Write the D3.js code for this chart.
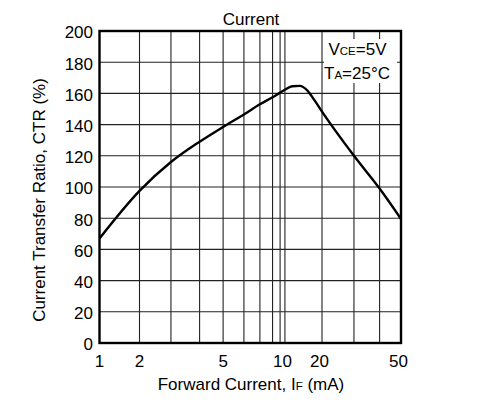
<!DOCTYPE html>
<html>
<head>
<meta charset="utf-8">
<script src="https://cdn.jsdelivr.net/npm/d3@7"></script>
<style>
  html, body { margin: 0; padding: 0; background: #fff; }
  svg { display: block; font-family: "Liberation Sans", Arial, Helvetica, sans-serif; }
</style>
</head>
<body>
<svg id="chart" width="479" height="420"></svg>
<script>
// ---- data ----
const currentIF = [1, 2, 3, 4, 5, 6, 7, 8, 9, 10, 12, 14, 16, 18, 20, 30, 40, 50];
const ctrValues = [67, 97.5, 116, 129, 138.5, 146.5, 153, 157.5, 160.5, 162.3, 164.6, 164.8, 162, 155.5, 148.3, 120, 99, 79.5];
const xGridValues = [1, 2, 3, 4, 5, 6, 7, 8, 9, 10, 20, 30, 40, 50];
const xTickLabels = [1, 2, 5, 10, 20, 50];
const yTickValues = [0, 20, 40, 60, 80, 100, 120, 140, 160, 180, 200];

// ---- layout ----
const svg = d3.select("#chart");
const L = 99.5, R = 401, T = 31, B = 343;
const W = R - L;
// the printed grid is not a true log grid; fractional positions of each grid value across the plot
const xGridFrac = [0, 0.1327, 0.237, 0.332, 0.41, 0.479, 0.532, 0.574, 0.599, 0.615, 0.738, 0.844, 0.929, 1];

const x = d3.scaleLinear().domain(xGridValues).range(xGridFrac.map(f => L + f * W));
const y = d3.scaleLinear().domain([0, 200]).range([B, T]);

// grid
const g = svg.append("g");
g.selectAll("line.v").data(xGridValues.slice(1, -1)).join("line")
  .attr("x1", d => x(d)).attr("x2", d => x(d))
  .attr("y1", T).attr("y2", B)
  .attr("stroke", "#222").attr("stroke-width", 1.1);
g.selectAll("line.h").data(yTickValues.slice(1, -1)).join("line")
  .attr("x1", L).attr("x2", R)
  .attr("y1", d => y(d)).attr("y2", d => y(d))
  .attr("stroke", "#222").attr("stroke-width", 1.1);

// legend box
const lg = svg.append("g");
lg.append("rect").attr("x", 324).attr("y", 39).attr("width", 73).attr("height", 44).attr("fill", "#fff");
const t1 = lg.append("text").attr("x", 357.5).attr("y", 54.5).attr("text-anchor", "middle").attr("font-size", 17);
t1.append("tspan").text("V");
t1.append("tspan").attr("font-size", 11.5).text("CE");
t1.append("tspan").text("=5V");
const t2 = lg.append("text").attr("x", 357).attr("y", 78.5).attr("text-anchor", "middle").attr("font-size", 17);
t2.append("tspan").text("T");
t2.append("tspan").attr("font-size", 11.5).text("A");
t2.append("tspan").text("=25°C");

// curve
const line = d3.line().x(d => x(d[0])).y(d => y(d[1])).curve(d3.curveMonotoneX);
svg.append("path")
  .datum(currentIF.map((v, i) => [v, ctrValues[i]]))
  .attr("d", line)
  .attr("fill", "none").attr("stroke", "#000").attr("stroke-width", 2.4)
  .attr("stroke-linejoin", "round");

// frame
svg.append("rect").attr("x", L).attr("y", T).attr("width", W).attr("height", B - T)
  .attr("fill", "none").attr("stroke", "#000").attr("stroke-width", 2.4);

// y tick labels
svg.append("g").selectAll("text").data(yTickValues).join("text")
  .attr("x", 93).attr("y", d => y(d) + 7.3)
  .attr("text-anchor", "end").attr("font-size", 17)
  .text(d => d);

// x tick labels
svg.append("g").selectAll("text").data(xTickLabels).join("text")
  .attr("x", d => x(d) - (d >= 10 ? 2.5 : 0)).attr("y", 367)
  .attr("text-anchor", "middle").attr("font-size", 17)
  .text(d => d);

// title
svg.append("text").attr("x", 251).attr("y", 25).attr("text-anchor", "middle")
  .attr("font-size", 17).text("Current");

// x axis title
const xt = svg.append("text").attr("x", 251).attr("y", 390).attr("text-anchor", "middle").attr("font-size", 17);
xt.append("tspan").text("Forward Current, I");
xt.append("tspan").attr("font-size", 11.5).text("F");
xt.append("tspan").text(" (mA)");

// y axis title
svg.append("text").attr("transform", "translate(45,200) rotate(-90)")
  .attr("text-anchor", "middle").attr("font-size", 17)
  .text("Current Transfer Ratio, CTR (%)");
</script>
</body>
</html>
